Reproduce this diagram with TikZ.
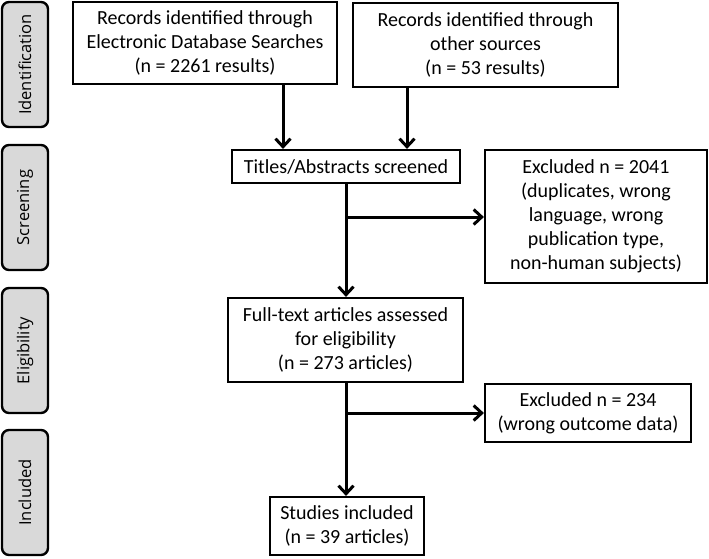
\documentclass[tikz,border=0pt]{standalone}
\usepackage{fontspec}
\setmainfont{Carlito}
\newfontfamily\labelfont{Open Sans}
\usetikzlibrary{arrows.meta}
\definecolor{labelgray}{HTML}{D9D9D9}
\tikzset{
  stage/.style={draw=black, line width=2.4pt, rounded corners=7pt, fill=labelgray},
  stagetext/.style={font=\labelfont\fontsize{16.5}{19}\selectfont, rotate=90},
  box/.style={draw=black, line width=2.2pt, fill=white, align=center, inner sep=0pt,
    font=\fontsize{20}{24}\selectfont},
  conn/.style={line width=3pt, -{Straight Barb[length=8pt,width=15pt,line width=3pt]}}
}
\begin{document}
\begin{tikzpicture}[x=1pt,y=-1pt]
\useasboundingbox (0,0) rectangle (709,558);
% stage labels
\draw[stage] (2,2) rectangle (48,127);
\node[stagetext] (lid) at (25,64.5) {Identification};
\draw[stage] (2,145) rectangle (48,270);
\node[stagetext] (lsc) at (25,207.5) {Screening};
\draw[stage] (2,288) rectangle (48,413);
\node[stagetext] (lel) at (25,350.5) {Eligibility};
\draw[stage] (2,430) rectangle (48,555);
\node[stagetext] (lin) at (25,492.5) {Included};
% boxes
\node[box, minimum width=264pt, minimum height=82pt] (db) at (205,43)
  {Records identified through\\Electronic Database Searches\\(n = 2261 results)};
\node[box, minimum width=265pt, minimum height=84pt] (oth) at (485.5,45)
  {Records identified through\\other sources\\(n = 53 results)};
\node[box, minimum width=228pt, minimum height=33pt] (scr) at (346,166.5)
  {Titles/Abstracts screened};
\node[box, minimum width=222pt, minimum height=133pt] (ex1) at (596,216.5)
  {Excluded n = 2041\\(duplicates, wrong\\language, wrong\\publication type,\\non-human subjects)};
\node[box, minimum width=235pt, minimum height=84pt] (full) at (345.5,340)
  {Full-text articles assessed\\for eligibility\\(n = 273 articles)};
\node[box, minimum width=206pt, minimum height=58pt] (ex2) at (588,413)
  {Excluded n = 234\\(wrong outcome data)};
\node[box, minimum width=154pt, minimum height=58pt] (inc) at (347,526)
  {Studies included\\(n = 39 articles)};
% connectors
\draw[conn] (db.south -| 283,0) -- (scr.north -| 283,0);
\draw[conn] (oth.south -| 407,0) -- (scr.north -| 407,0);
\draw[conn] (scr.south -| 346,0) -- (full.north -| 346,0);
\coordinate (b1) at (346,217);
\draw[conn] (b1) -- (ex1.west |- b1);
\draw[conn] (full.south -| 346,0) -- (inc.north -| 346,0);
\coordinate (b2) at (346,413);
\draw[conn] (b2) -- (ex2.west |- b2);
\end{tikzpicture}
\end{document}
